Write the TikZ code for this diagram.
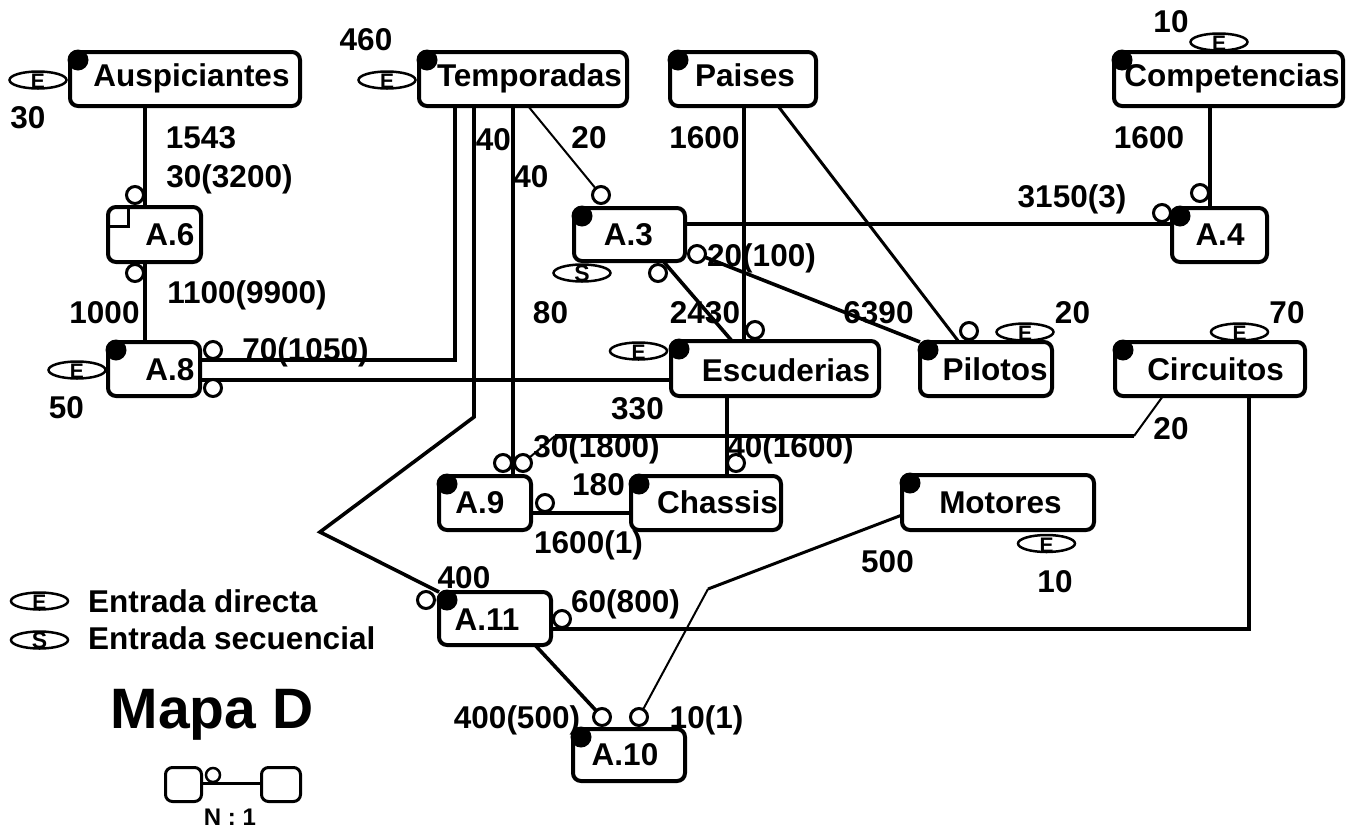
\documentclass[tikz,border=0pt]{standalone}
\usepackage{fontspec}
\setmainfont{Liberation Sans}
\usetikzlibrary{shapes.geometric}
\begin{document}
\begin{tikzpicture}[x=1pt,y=-1pt,
  box/.style={draw, line width=4pt, rounded corners=8pt, inner sep=0pt, outer sep=0pt},
  sbox/.style={draw, line width=3pt, rounded corners=7pt, inner sep=0pt, outer sep=0pt},
  txt/.style={font=\fontsize{31.5}{32}\selectfont\bfseries, anchor=base, inner sep=0pt},
  conn/.style={line width=3.6pt},
  mconn/.style={line width=3pt},
  tconn/.style={line width=2pt},
  ring/.style={circle, draw, line width=3pt, fill=white, minimum size=17pt, inner sep=0pt, outer sep=0pt},
  sring/.style={circle, draw, line width=2.5pt, fill=white, minimum size=14pt, inner sep=0pt, outer sep=0pt},
  dot/.style={circle, fill=black, minimum size=21pt, inner sep=0pt},
  acc/.style={ellipse, draw, line width=2.5pt, minimum width=57pt, minimum height=17pt, inner sep=0pt, outer sep=0pt},
  accE/.style={font=\fontsize{21}{21}\selectfont\bfseries, anchor=base, inner sep=0pt},
  accS/.style={font=\fontsize{23}{23}\selectfont\bfseries, anchor=base, inner sep=0pt},
]
\useasboundingbox (0,0) rectangle (1361,828);

% ---------- boxes ----------
\node[box, minimum width=230pt, minimum height=54pt] (ausp) at (185,79) {};
\node[box, minimum width=208pt, minimum height=54pt] (temp) at (523,79) {};
\node[box, minimum width=146pt, minimum height=54pt] (pais) at (743,79) {};
\node[box, minimum width=229pt, minimum height=54pt] (comp) at (1228.5,79) {};
\node[box, minimum width=93pt, minimum height=55pt] (a6) at (154.5,234.5) {};
\node[box, minimum width=111pt, minimum height=53pt] (a3) at (629.5,234.5) {};
\node[box, minimum width=95pt, minimum height=54pt] (a4) at (1219.5,235) {};
\node[box, minimum width=92pt, minimum height=54pt] (a8) at (154,369) {};
\node[box, minimum width=208pt, minimum height=55pt] (escu) at (775,368.5) {};
\node[box, minimum width=132pt, minimum height=54pt] (pilo) at (986,369) {};
\node[box, minimum width=190pt, minimum height=54pt] (circ) at (1210,369) {};
\node[box, minimum width=92pt, minimum height=54pt] (a9) at (485,503) {};
\node[box, minimum width=150pt, minimum height=54pt] (chas) at (706,503) {};
\node[box, minimum width=192pt, minimum height=55pt] (moto) at (998,502.5) {};
\node[box, minimum width=112pt, minimum height=53pt] (a11) at (495,618.5) {};
\node[box, minimum width=112pt, minimum height=52pt] (a10) at (629,755) {};

% inner square of A.6
\draw[line width=3pt] ([yshift=-19pt]a6.north west) -| ([xshift=20pt]a6.north west);

% ---------- box texts ----------
\node[txt] (t-ausp) at (191.5,86) {Auspiciantes};
\node[txt] (t-temp) at (529.5,86) {Temporadas};
\node[txt] (t-pais) at (745,86) {Paises};
\node[txt] (t-comp) at (1232,86) {Competencias};
\node[txt] (t-a6) at (170,245) {A.6};
\node[txt] (t-a3) at (628.5,245) {A.3};
\node[txt] (t-a4) at (1220,245) {A.4};
\node[txt] (t-a8) at (170,380) {A.8};
\node[txt] (t-escu) at (786,381) {Escuderias};
\node[txt] (t-pilo) at (995,380) {Pilotos};
\node[txt] (t-circ) at (1215.5,380) {Circuitos};
\node[txt] (t-a9) at (480,513) {A.9};
\node[txt] (t-chas) at (717.5,513) {Chassis};
\node[txt] (t-moto) at (1000.5,513) {Motores};
\node[txt] (t-a11) at (487,630) {A.11};
\node[txt] (t-a10) at (625,765) {A.10};

% ---------- helper coordinates ----------
\coordinate (c1) at (145,0);
\coordinate (c3) at (455,360);
\coordinate (c4) at (0,380);
\coordinate (c5a) at (474,417);
\coordinate (c5b) at (320,532);
\coordinate (c6) at (513,0);
\coordinate (c7) at (528,0);
\coordinate (c8) at (744,0);
\coordinate (c9) at (778,0);
\coordinate (c9b) at (959,0);
\coordinate (c10) at (1210,0);
\coordinate (c11) at (0,224);
\coordinate (c13a) at (663,0);
\coordinate (c13) at (732,0);
\coordinate (c14) at (727,0);
\coordinate (c15a) at (1163,0);
\coordinate (c15b) at (1134,436);
\coordinate (c15c) at (555,436);
\coordinate (c16) at (1249,629);
\coordinate (c17) at (0,513);
\coordinate (c18) at (535,0);
\coordinate (c19) at (708,589);
\coordinate (c19b) at (0,515);
\coordinate (c20) at (0,783);

% ---------- rings (positions) ----------
\path
  (135,195) coordinate (p-a6t)
  (135,273) coordinate (p-a6b)
  (213,350) coordinate (p-a8t)
  (213,388) coordinate (p-a8b)
  (601,195) coordinate (p-a3t)
  (697,254) coordinate (p-a3r)
  (658,273) coordinate (p-a3b)
  (1200,193) coordinate (p-a4t)
  (1162,213) coordinate (p-a4l)
  (755,330) coordinate (p-escu)
  (969,331) coordinate (p-pilo)
  (503,463) coordinate (p-a9t1)
  (523,463) coordinate (p-a9t2)
  (545,503) coordinate (p-a9r)
  (736,463) coordinate (p-chas)
  (426,600) coordinate (p-a11l)
  (562,619) coordinate (p-a11r)
  (602,717) coordinate (p-a10l)
  (639,717) coordinate (p-a10r);

% ---------- connectors ----------
\draw[conn] (ausp.south -| c1) -- (a6.north -| c1);
\draw[conn] (a6.south -| c1) -- (a8.north -| c1);
\draw[conn] (a8.east |- c3) -| (temp.south -| c3);
\draw[conn] (a8.east |- c4) -- (escu.west |- c4);
\draw[conn] (temp.south -| c5a) -- (c5a) -- (c5b) -- (a11.north west);
\draw[conn] (temp.south -| c6) -- (a9.north -| c6);
\draw[tconn] (temp.south -| c7) -- (p-a3t);
\draw[conn] (pais.south -| c8) -- (escu.north -| c8);
\draw[mconn] (pais.south -| c9) -- (pilo.north -| c9b);
\draw[conn] (comp.south -| c10) -- (a4.north -| c10);
\draw[conn] (a3.east |- c11) -- (a4.west |- c11);
\draw[conn] (p-a3r) -- (pilo.north west);
\draw[conn] (a3.south -| c13a) -- (escu.north -| c13);
\draw[conn] (escu.south -| c14) -- (chas.north -| c14);
\draw[tconn] (circ.south -| c15a) -- (c15b);
\draw[conn] (c15b) -- (c15c);
\draw[tconn] (c15c) -- (p-a9t2);
\draw[conn] (circ.south -| c16) -- (c16) -- (a11.east |- c16);
\draw[conn] (a9.east |- c17) -- (chas.west |- c17);
\draw[conn] (a11.south -| c18) -- (p-a10l);
\draw[mconn] (moto.west |- c19b) -- (c19);
\draw[tconn] (c19) -- (p-a10r);

% ---------- rings ----------
\foreach \r in {a6t,a6b,a8t,a8b,a3t,a3r,a3b,a4t,a4l,escu,pilo,a9t1,a9t2,a9r,chas,a11l,a11r,a10l,a10r}
  \node[ring] (r-\r) at (p-\r) {};

% ---------- identifier dots ----------
\foreach \b in {ausp,temp,pais,comp,a3,a4,a8,escu,pilo,circ,a9,chas,moto,a11,a10}
  \node[dot] (d-\b) at ([xshift=8pt,yshift=-8pt]\b.north west) {};

% ---------- access ellipses ----------
\foreach \n/\x/\y in {ausp/38/80, temp/387/80, comp/1219/42, a8/77/370, escu/638.5/351, pilo/1025/332, circ/1239.5/332, moto/1046.5/543.5, leg/39.5/601}{
  \node[acc] (e-\n) at (\x,\y) {};
  \node[accE] (e-\n-t) at (e-\n.south) {E};
}
\foreach \n/\x/\y in {a3/582/273, leg/39.5/640}{
  \node[acc] (s-\n) at (\x,\y) {};
  \node[accS] (s-\n-t) at (s-\n.south) {S};
}

% ---------- cardinality labels ----------
\node[txt] (l01) at (28,128) {30};
\node[txt] (l02) at (201,148) {1543};
\node[txt] (l03) at (229.5,187) {30(3200)};
\node[txt] (l04) at (247,303) {1100(9900)};
\node[txt] (l05) at (104.5,323) {1000};
\node[txt] (l06) at (305.5,360) {70(1050)};
\node[txt] (l07) at (66.5,418) {50};
\node[txt] (l08) at (366,50) {460};
\node[txt] (l09) at (493.5,150) {40};
\node[txt] (l10) at (531,187) {40};
\node[txt] (l11) at (589,148) {20};
\node[txt] (l12) at (704.5,148) {1600};
\node[txt] (l13) at (550.5,323) {80};
\node[txt] (l14) at (705,323) {2430};
\node[txt] (l15) at (878.5,323) {6390};
\node[txt] (l16) at (761.5,266) {20(100)};
\node[txt] (l17) at (1072,207) {3150(3)};
\node[txt] (l18) at (1149,148) {1600};
\node[txt] (l19) at (1171,32) {10};
\node[txt] (l20) at (1072.5,323) {20};
\node[txt] (l21) at (1287,323) {70};
\node[txt] (l22) at (1171,439) {20};
\node[txt] (l23) at (637.5,419) {330};
\node[txt] (l24) at (596.5,457) {30(1800)};
\node[txt] (l25) at (790.5,457) {40(1600)};
\node[txt] (l26) at (598.5,495) {180};
\node[txt] (l27) at (588.5,553) {1600(1)};
\node[txt] (l28) at (464,588) {400};
\node[txt] (l29) at (625.5,612) {60(800)};
\node[txt] (l30) at (517,728) {400(500)};
\node[txt] (l31) at (706.5,728) {10(1)};
\node[txt] (l32) at (887.5,572) {500};
\node[txt] (l33) at (1055,592) {10};

% ---------- legend ----------
\node[txt, anchor=base west] (leg1) at (88,612) {Entrada directa};
\node[txt, anchor=base west] (leg2) at (88,649) {Entrada secuencial};
\node[font=\fontsize{57}{57}\selectfont\bfseries, anchor=base, inner sep=0pt] (title) at (212,728) {Mapa D};
\node[sbox, minimum width=36pt, minimum height=34pt] (lb1) at (183.5,784.5) {};
\node[sbox, minimum width=39pt, minimum height=34pt] (lb2) at (281,784.5) {};
\draw[mconn] (lb1.east |- c20) -- (lb2.west |- c20);
\node[sring] (r-leg) at (213,775) {};
\node[font=\fontsize{24}{24}\selectfont\bfseries, anchor=base, inner sep=0pt] (nratio) at (230,825) {N : 1};
\end{tikzpicture}
\end{document}
